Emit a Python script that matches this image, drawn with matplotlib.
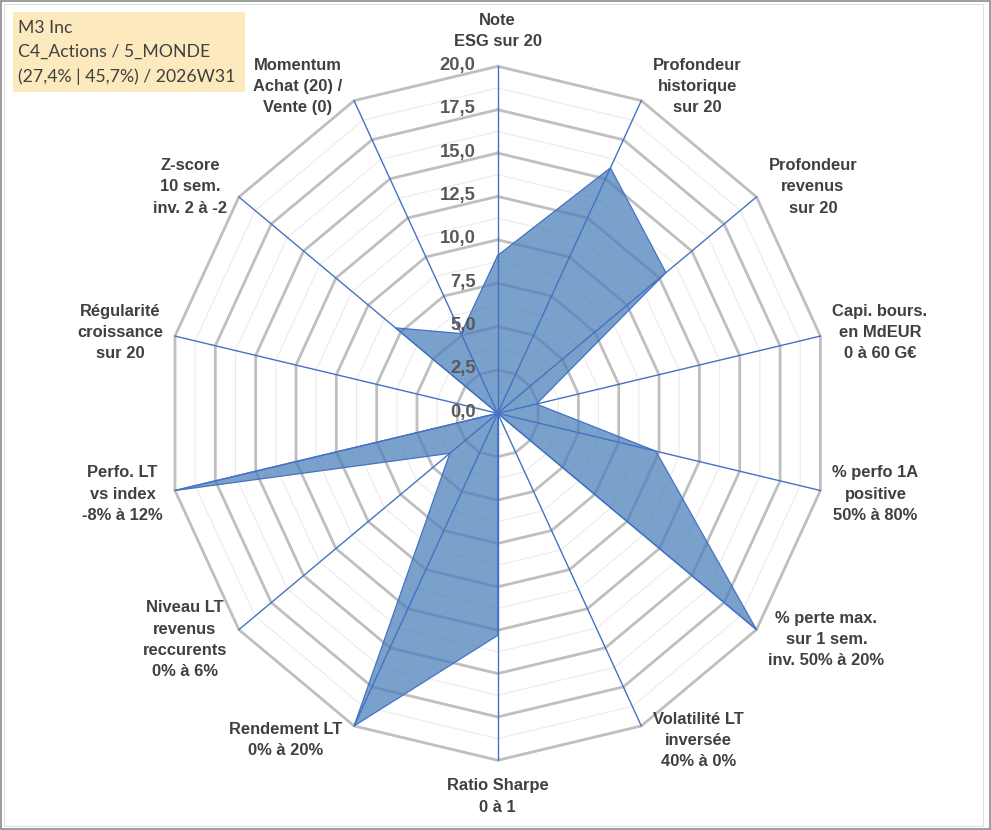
import numpy as np
import matplotlib
matplotlib.use("Agg")
import matplotlib.pyplot as plt
from matplotlib.patches import Rectangle

categories = [
    "Note\nESG sur 20",
    "Profondeur\nhistorique\nsur 20",
    "Profondeur\nrevenus\nsur 20",
    "Capi. bours.\nen MdEUR\n0 à 60 G€",
    "% perfo 1A\npositive\n50% à 80%",
    "% perte max.\nsur 1 sem.\ninv. 50% à 20%",
    "Volatilité LT\ninversée\n40% à 0%",
    "Ratio Sharpe\n0 à 1",
    "Rendement LT\n0% à 20%",
    "Niveau LT\nrevenus\nreccurents\n0% à 6%",
    "Perfo. LT\nvs index\n-8% à 12%",
    "Régularité\ncroissance\nsur 20",
    "Z-score\n10 sem.\ninv. 2 à -2",
    "Momentum\nAchat (20) /\nVente (0)",
]
values = [9.1, 15.7, 13.0, 2.4, 9.8, 20.0, 0.0, 12.8, 20.0, 3.7, 20.0, 0.0, 7.9, 5.1]
major_levels = [0, 2.5, 5, 7.5, 10, 12.5, 15, 17.5, 20]
minor_levels = [1.25, 3.75, 6.25, 8.75, 11.25, 13.75, 16.25, 18.75]
tick_labels = ["0,0", "2,5", "5,0", "7,5", "10,0", "12,5", "15,0", "17,5", "20,0"]
info_lines = ["M3 Inc", "C4_Actions / 5_MONDE", "(27,4% | 45,7%) / 2026W31"]

W, H = 991, 830
fig = plt.figure(figsize=(W / 100, H / 100), dpi=100)
fig.patch.set_facecolor("white")

cx, cy = 497.7, 413.3
rx, ry = 331, 347
ax = fig.add_axes([(cx - rx) / W, (H - cy - ry) / H, 2 * rx / W, 2 * ry / H],
                  projection="polar")
ax.set_aspect("auto")
ax.set_theta_zero_location("N")
ax.set_theta_direction(-1)
ax.set_ylim(0, 20)
ax.spines["polar"].set_visible(False)
ax.grid(False)
ax.set_xticks([])
ax.set_yticks([])
ax.patch.set_alpha(0)

n = len(categories)
angles = np.arange(n) * 2 * np.pi / n
ang_c = np.append(angles, angles[0])

for lv in minor_levels:
    ax.plot(ang_c, [lv] * (n + 1), color="#EBEBEB", lw=0.8, zorder=1, clip_on=False)
for lv in major_levels[1:]:
    ax.plot(ang_c, [lv] * (n + 1), color="#BFBFBF", lw=2.0, zorder=1.2, clip_on=False)

vals_c = np.append(values, values[0])
ax.fill(ang_c, vals_c, color="#4C7FBB", alpha=0.74, zorder=2, clip_on=False, lw=0)
ax.plot(ang_c, vals_c, color="#4472C4", lw=0.9, zorder=2.5, clip_on=False)

for a in angles:
    ax.plot([a, a], [0, 20], color="#4472C4", lw=1.0, zorder=3, clip_on=False)

for lv, lab in zip(major_levels, tick_labels):
    ax.annotate(lab, xy=(0, lv), xytext=(-22, 1), textcoords="offset pixels",
                ha="right", va="center", fontsize=13.3, fontweight="bold",
                color="#595959", family="Liberation Sans", zorder=4)

for a, lab in zip(angles, categories):
    s, c = np.sin(a), np.cos(a)
    if abs(s) < 0.1:
        ha = "center"
        if c > 0:
            va, dx, dy = "bottom", 0, 17
        else:
            va, dx, dy = "top", 0, -18
    else:
        ha = "left" if s > 0 else "right"
        va = "center"
        dx = 12 * np.sign(s)
        dy = 16 * c
    ax.annotate(lab, xy=(a, 20), xytext=(dx, dy), textcoords="offset pixels",
                ha=ha, va=va, multialignment="center", fontsize=11.9,
                fontweight="bold", color="#404040", family="Liberation Sans",
                linespacing=1.52, annotation_clip=False)

# info box
fig.patches.append(Rectangle((13 / W, (H - 92) / H), 232 / W, 80 / H,
                             transform=fig.transFigure, facecolor="#FCE9BE",
                             edgecolor="none", zorder=0))
fig.text(18 / W, (H - 20) / H, "\n".join(info_lines), ha="left", va="top",
         fontsize=12.7, color="#404040", family="Lato", linespacing=1.62)

# chart borders
fig.patches.append(Rectangle((1 / W, 1 / H), (W - 2) / W, (H - 2) / H,
                             transform=fig.transFigure, facecolor="none",
                             edgecolor="#8C8C8C", lw=1.2))
fig.patches.append(Rectangle((4 / W, 4 / H), (W - 12) / W, (H - 8) / H,
                             transform=fig.transFigure, facecolor="none",
                             edgecolor="#E0E0E0", lw=0.8))

fig.savefig("out.png", dpi=100)
